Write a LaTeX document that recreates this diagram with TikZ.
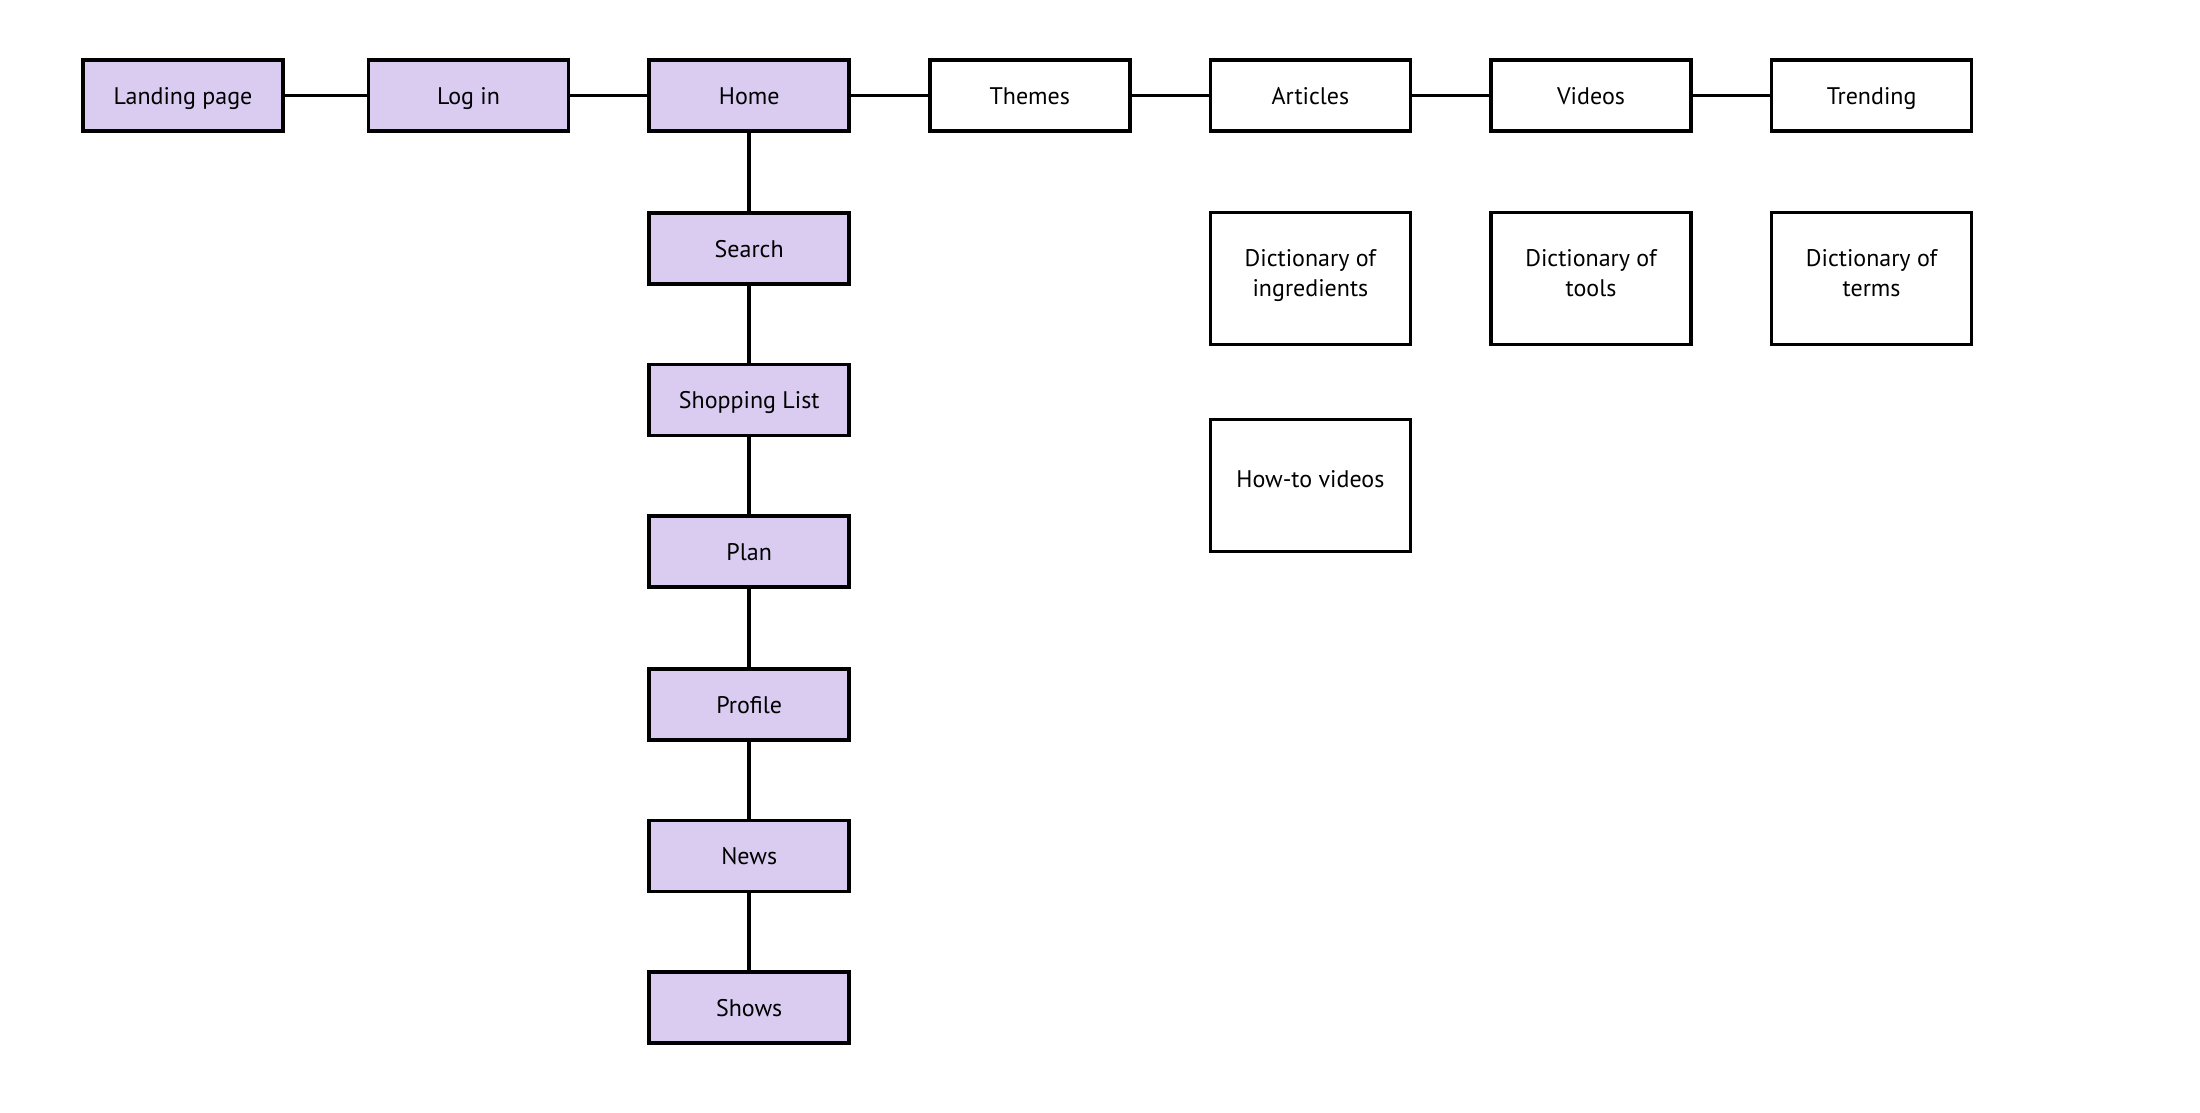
\documentclass[tikz,border=0pt]{standalone}
\usepackage{fontspec}
\setmainfont{PT Sans}
\definecolor{lav}{RGB}{218,204,241}
\begin{document}
\begin{tikzpicture}[x=1pt,y=-1pt,
  box/.style={draw=black,line width=3.6pt,minimum width=200pt,minimum height=71pt,inner sep=0pt,align=center,font=\fontsize{24}{30}\selectfont},
  one/.style={text height=21pt,text depth=3pt},
  pbox/.style={box,one,fill=lav},
  wbox/.style={box,one,fill=white},
  tbox/.style={box,fill=white,minimum height=132pt,text height=38pt,text depth=2pt},
  hbox/.style={box,fill=white,minimum height=132pt,text height=14pt,text depth=10pt},
  link/.style={line width=3.6pt}]
\useasboundingbox (0,0) rectangle (2200,1113);
\node[pbox] (landing) at (183,95.4) {Landing page};
\node[pbox] (login) at (468.6,95.4) {Log in};
\node[pbox] (home) at (749.2,95.4) {Home};
\node[wbox] (themes) at (1029.8,95.4) {Themes};
\node[wbox] (articles) at (1310.4,95.4) {Articles};
\node[wbox] (videos) at (1591,95.4) {Videos};
\node[wbox] (trending) at (1871.6,95.4) {Trending};
\node[pbox] (search) at (749.2,248.3) {Search};
\node[pbox] (shopping) at (749.2,399.9) {Shopping List};
\node[pbox] (plan) at (749.2,551.4) {Plan};
\node[pbox] (profile) at (749.2,704.3) {Profile};
\node[pbox] (news) at (749.2,855.9) {News};
\node[pbox] (shows) at (749.2,1007.4) {Shows};
\node[tbox] (dingr) at (1310.4,278.5) {Dictionary of\\ingredients};
\node[tbox] (dtools) at (1591,278.5) {Dictionary of\\tools};
\node[tbox] (dterms) at (1871.6,278.5) {Dictionary of\\terms};
\node[hbox] (howto) at (1310.4,485.4) {How-to videos};
\draw[link] (landing) -- (login);
\draw[link] (login) -- (home);
\draw[link] (home) -- (themes);
\draw[link] (themes) -- (articles);
\draw[link] (articles) -- (videos);
\draw[link] (videos) -- (trending);
\draw[link] (home) -- (search);
\draw[link] (search) -- (shopping);
\draw[link] (shopping) -- (plan);
\draw[link] (plan) -- (profile);
\draw[link] (profile) -- (news);
\draw[link] (news) -- (shows);
\end{tikzpicture}
\end{document}
